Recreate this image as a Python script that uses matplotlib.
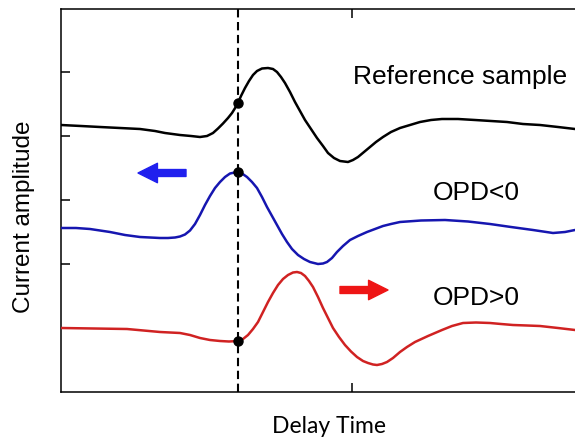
from __future__ import annotations

import matplotlib as mpl
import matplotlib.pyplot as plt
import numpy as np


mpl.rcParams['font.family'] = ['Liberation Sans', 'DejaVu Sans']
mpl.rcParams['axes.unicode_minus'] = False

OUT_PNG = 'out.png'

# delay time and current amplitude, both in arbitrary units (traces already offset)
REF_T = [0, 20, 39, 59, 79, 94, 104, 119, 130, 139, 146, 152, 157, 162, 167, 171, 176,
         180, 184, 188, 192, 196, 201, 207, 212, 216, 220, 224, 229, 234, 239, 244, 250,
         256, 262, 267, 273, 279, 287, 292, 297, 303, 309, 315, 322, 330, 339, 349, 359,
         370, 381, 397, 414, 430, 446, 462, 479, 497, 514]
REF_A = [267, 266, 265, 264, 263, 261, 259, 257, 256, 255, 256, 259, 263.5, 268.5, 274, 279, 287,
         296, 304, 311, 317, 321, 323.5, 324, 323, 320, 315, 309, 300, 290, 281, 272, 263,
         254, 246, 239, 234, 231, 230, 232, 235, 240, 245, 250, 255, 260, 264, 267, 270,
         272, 273, 273, 272, 271, 270, 268, 267, 265, 263]

NEG_T = [0, 15, 29, 49, 64, 79, 99, 107, 114, 119, 124, 129, 134, 139, 144, 149, 154,
         159, 164, 169, 176, 181, 186, 191, 196, 201, 206, 211, 216, 221, 226, 231, 237,
         243, 249, 257, 262, 266, 271, 276, 282, 289, 297, 306, 314, 322, 330, 339, 360,
         384, 407, 429, 450, 472, 482, 492, 504, 514]
NEG_A = [164, 164, 163, 160, 157, 155, 154, 154, 154.5, 155.5, 157.5, 161.5, 168, 177, 187, 196, 204,
         210, 215, 218.5, 220, 218.5, 215, 210, 204, 195, 185, 176, 167, 158, 150, 143, 137,
         133, 130, 128, 128.5, 130, 134, 140, 146, 152, 156, 160, 163, 166, 168, 170, 171.5,
         172, 170.5, 168, 165, 162, 160.5, 159, 160, 162]

POS_T = [0, 33, 66, 99, 119, 129, 139, 149, 159, 168, 177, 182, 187, 192, 197, 202, 207,
         212, 217, 222, 227, 232, 236, 240, 244, 248, 252, 257, 262, 267, 272, 278, 284,
         290, 296, 302, 307, 312, 316, 321, 326, 332, 339, 346, 354, 367, 381, 391, 402,
         415, 429, 440, 452, 466, 479, 497, 514]
POS_A = [64, 63.5, 63, 60, 59, 57, 54, 52, 51, 50.5, 51, 53, 57, 63, 70, 80, 90,
         99, 107, 113, 117, 119.5, 120, 119, 116, 111, 105, 95, 84, 74, 64, 55, 47,
         40.5, 35, 31, 29, 27.5, 27, 28, 30, 34, 40, 45, 50, 56, 62, 66, 69,
         69.5, 69, 68, 67, 66.5, 66, 64, 62]

MARK_T = 177            # reference delay (dashed line)
X_TICKS = [291]
Y_TICKS = [128, 192, 256, 320]

ARROW = 'simple,head_width=1.4,head_length=1.4,tail_width=0.5'


def plot_traces() -> None:
    fig = plt.figure(figsize=(5.75, 4.41), dpi=100)
    ax = fig.add_axes([61 / 575, 49 / 441, 514 / 575, 383 / 441])

    traces = [
        (REF_T, REF_A, 'black'),
        (NEG_T, NEG_A, '#1616b0'),
        (POS_T, POS_A, '#d02222'),
    ]
    for t, a, c in traces:
        ax.plot(t, a, color=c, lw=1.8, solid_joinstyle='round', zorder=3)

    ax.axvline(MARK_T, color='black', lw=1.5, dashes=(4, 2.2), zorder=2)
    for t, a, _ in traces:
        ax.plot(MARK_T, np.interp(MARK_T, t, a), 'o', color='black', ms=6.5, zorder=4)

    # shift direction arrows
    ax.annotate('', xy=(77, 219), xytext=(125, 219),
                arrowprops=dict(arrowstyle=ARROW, color='#2020ee', shrinkA=0, shrinkB=0,
                                mutation_scale=10))
    ax.annotate('', xy=(327, 102), xytext=(279, 102),
                arrowprops=dict(arrowstyle=ARROW, color='#ee1515', shrinkA=0, shrinkB=0,
                                mutation_scale=10))

    ax.text(292, 308, 'Reference sample', fontsize=19, ha='left', va='baseline')
    ax.text(372, 192, 'OPD<0', fontsize=19, ha='left', va='baseline')
    ax.text(372, 87, 'OPD>0', fontsize=19, ha='left', va='baseline')

    ax.set_xlim(0, 514)
    ax.set_ylim(0, 383)
    ax.set_xticks(X_TICKS)
    ax.set_yticks(Y_TICKS)
    ax.tick_params(direction='in', length=6.5, width=1.1, top=True, right=False,
                   labelbottom=False, labelleft=False)
    ax.spines['right'].set_visible(False)
    for s in ('left', 'bottom', 'top'):
        ax.spines[s].set_linewidth(1.1)

    fig.text(24 / 575, 1 - 217 / 441, 'Current amplitude', fontsize=17.5,
             rotation=90, ha='center', va='center')
    fig.text(329 / 575, 1 - 433 / 441, 'Delay Time', fontsize=16.5,
             family=['Lato', 'DejaVu Sans'], ha='center', va='baseline')

    fig.savefig(OUT_PNG, dpi=100)
    plt.close(fig)


def main() -> None:
    plot_traces()


if __name__ == '__main__':
    main()
